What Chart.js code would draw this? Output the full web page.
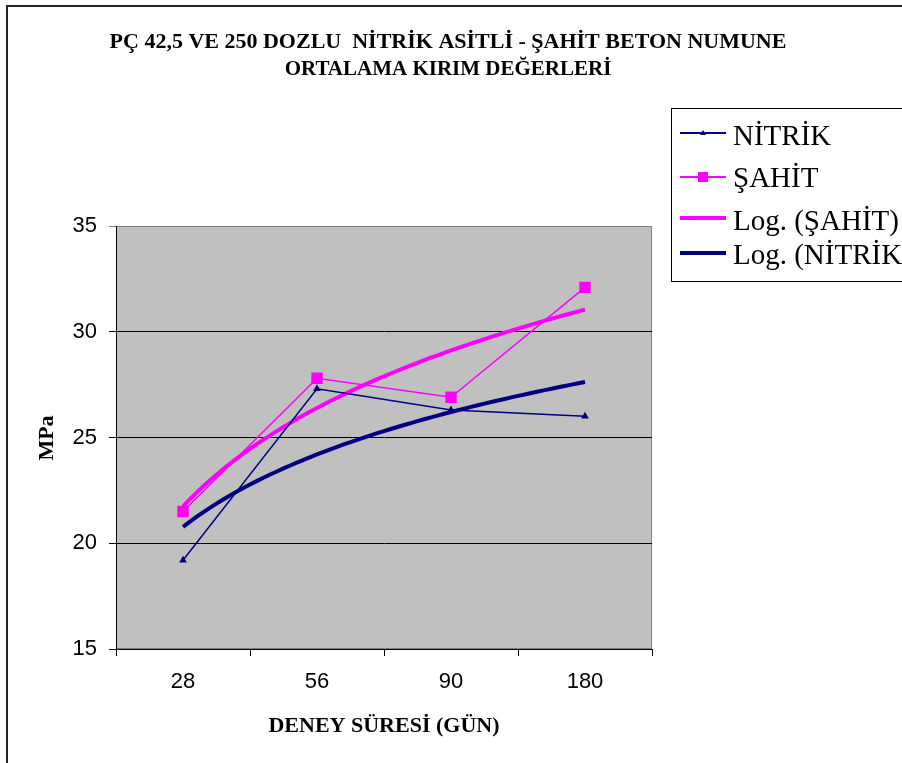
<!DOCTYPE html>
<html>
<head>
<meta charset="utf-8">
<script src="https://cdn.jsdelivr.net/npm/chart.js@4.4.0/dist/chart.umd.min.js"></script>
<style>
  html, body { margin: 0; padding: 0; background: #fff; }
  #wrap { width: 902px; height: 763px; }
</style>
</head>
<body>
<div id="wrap"><canvas id="myChart" width="902" height="763"></canvas></div>
<script>
const days = ['28', '56', '90', '180'];
const nitrik = [19.2, 27.3, 26.3, 26.0];
const sahit = [21.5, 27.8, 26.9, 32.1];
const yTicks = [15, 20, 25, 30, 35];

const titleLines = ['PÇ 42,5 VE 250 DOZLU  NİTRİK ASİTLİ - ŞAHİT BETON NUMUNE', 'ORTALAMA KIRIM DEĞERLERİ'];
const xTitle = 'DENEY SÜRESİ (GÜN)';
const yTitle = 'MPa';
const legendNames = ['NİTRİK', 'ŞAHİT', 'Log. (ŞAHİT)', 'Log. (NİTRİK)'];

const NAVY = '#000080';
const PINK = '#ff00ff';

// logarithmic least squares fit y = a*ln(x) + b, x = 1..n (category index)
function logTrend(ys) {
  const n = ys.length;
  const lx = ys.map((_, i) => Math.log(i + 1));
  const mx = lx.reduce((s, v) => s + v, 0) / n;
  const my = ys.reduce((s, v) => s + v, 0) / n;
  let sxy = 0, sxx = 0;
  for (let i = 0; i < n; i++) {
    sxy += (lx[i] - mx) * (ys[i] - my);
    sxx += (lx[i] - mx) * (lx[i] - mx);
  }
  const a = sxy / sxx;
  const b = my - a * mx;
  const pts = [];
  for (let x = 1; x <= n + 1e-9; x += 0.05) {
    pts.push({x: x, y: a * Math.log(x) + b});
  }
  return pts;
}

// frame, plot background, titles and legend
const decor = {
  id: 'decor',
  beforeDraw(chart) {
    const ctx = chart.ctx;
    const a = chart.chartArea;
    ctx.save();
    ctx.fillStyle = '#fff';
    ctx.fillRect(0, 0, chart.width, chart.height);
    ctx.strokeStyle = '#222';
    ctx.lineWidth = 2;
    ctx.beginPath();
    ctx.moveTo(7, chart.height + 2);
    ctx.lineTo(7, 6);
    ctx.lineTo(chart.width + 2, 6);
    ctx.stroke();
    ctx.fillStyle = '#c0c0c0';
    ctx.fillRect(a.left, a.top, a.right - a.left, a.bottom - a.top);
    ctx.strokeStyle = '#808080';
    ctx.lineWidth = 1;
    ctx.strokeRect(a.left + 0.5, a.top + 0.5, a.right - a.left - 1, a.bottom - a.top - 1);
    ctx.restore();
  },
  afterDraw(chart) {
    const ctx = chart.ctx;
    const a = chart.chartArea;
    ctx.save();
    ctx.fillStyle = '#000';
    ctx.textAlign = 'center';
    ctx.textBaseline = 'middle';
    ctx.font = 'bold 22px "Liberation Serif"';
    ctx.fillText(titleLines[0], 448, 42);
    ctx.font = 'bold 21px "Liberation Serif"';
    ctx.fillText(titleLines[1], 448, 70);

    ctx.font = 'bold 22px "Liberation Serif"';
    ctx.fillText(xTitle, (a.left + a.right) / 2, 726);
    ctx.save();
    ctx.translate(47, 438);
    ctx.rotate(-Math.PI / 2);
    ctx.fillText(yTitle, 0, 0);
    ctx.restore();

    // legend
    ctx.strokeStyle = '#000';
    ctx.lineWidth = 1;
    ctx.strokeRect(671.5, 108.5, 260, 173);
    const rows = [
      {y: 133, base: 145, color: NAVY, w: 2, mark: 'tri'},
      {y: 177, base: 187, color: PINK, w: 2, mark: 'sq'},
      {y: 218, base: 230, color: PINK, w: 4, mark: null},
      {y: 253, base: 264, color: NAVY, w: 4, mark: null}
    ];
    ctx.textAlign = 'left';
    ctx.textBaseline = 'alphabetic';
    ctx.font = '29px "Liberation Serif"';
    rows.forEach((r, i) => {
      ctx.strokeStyle = r.color;
      ctx.fillStyle = r.color;
      ctx.lineWidth = r.w;
      ctx.beginPath();
      ctx.moveTo(680, r.y);
      ctx.lineTo(726, r.y);
      ctx.stroke();
      if (r.mark === 'sq') {
        ctx.fillRect(698, r.y - 5, 10, 10);
      } else if (r.mark === 'tri') {
        ctx.beginPath();
        ctx.moveTo(703, r.y - 3);
        ctx.lineTo(706, r.y + 2);
        ctx.lineTo(700, r.y + 2);
        ctx.closePath();
        ctx.fill();
      }
      ctx.fillStyle = '#000';
      ctx.fillText(legendNames[i], 733, r.base);
    });
    ctx.restore();
  }
};

const data = {
  labels: days,
  datasets: [
    {
      label: legendNames[3],
      data: logTrend(nitrik),
      xAxisID: 'xt',
      borderColor: NAVY,
      borderWidth: 4,
      pointRadius: 0,
      order: 3
    },
    {
      label: legendNames[2],
      data: logTrend(sahit),
      xAxisID: 'xt',
      borderColor: PINK,
      borderWidth: 4,
      pointRadius: 0,
      order: 2
    },
    {
      label: legendNames[0],
      data: nitrik,
      xAxisID: 'x',
      borderColor: NAVY,
      backgroundColor: NAVY,
      borderWidth: 1.5,
      pointStyle: 'triangle',
      pointRadius: 3,
      order: 1
    },
    {
      label: legendNames[1],
      data: sahit,
      xAxisID: 'x',
      borderColor: PINK,
      backgroundColor: PINK,
      borderWidth: 1.5,
      pointStyle: 'rect',
      pointRadius: 7,
      order: 0
    }
  ]
};

const config = {
  type: 'line',
  data: data,
  options: {
    responsive: false,
    animation: false,
    layout: {
      padding: {left: 0, top: 226, right: 250, bottom: 0}
    },
    plugins: {
      legend: { display: false },
      title: { display: false },
      tooltip: { enabled: false }
    },
    scales: {
      x: {
        type: 'category',
        offset: true,
        afterFit(scale) { scale.height = 114; },
        border: { color: '#000', width: 1 },
        grid: {
          offset: true,
          drawOnChartArea: false,
          drawTicks: true,
          tickLength: 7,
          color: '#000'
        },
        ticks: {
          color: '#000',
          padding: 13,
          maxRotation: 0,
          font: { family: '"Liberation Sans"', size: 22 }
        }
      },
      xt: {
        type: 'linear',
        display: false,
        min: 0.5,
        max: days.length + 0.5
      },
      y: {
        min: yTicks[0],
        max: yTicks[yTicks.length - 1],
        afterFit(scale) { scale.width = 116; },
        afterBuildTicks(scale) { scale.ticks = yTicks.map(v => ({value: v})); },
        border: { color: '#000', width: 1 },
        grid: {
          color: ctx => (ctx.tick && ctx.tick.value === yTicks[yTicks.length - 1]) ? '#808080' : '#000',
          tickLength: 7,
          drawTicks: true
        },
        ticks: {
          color: '#000',
          padding: 12,
          font: { family: '"Liberation Sans"', size: 22 }
        }
      }
    }
  },
  plugins: [decor]
};

const myChart = new Chart(document.getElementById('myChart'), config);
</script>
</body>
</html>
